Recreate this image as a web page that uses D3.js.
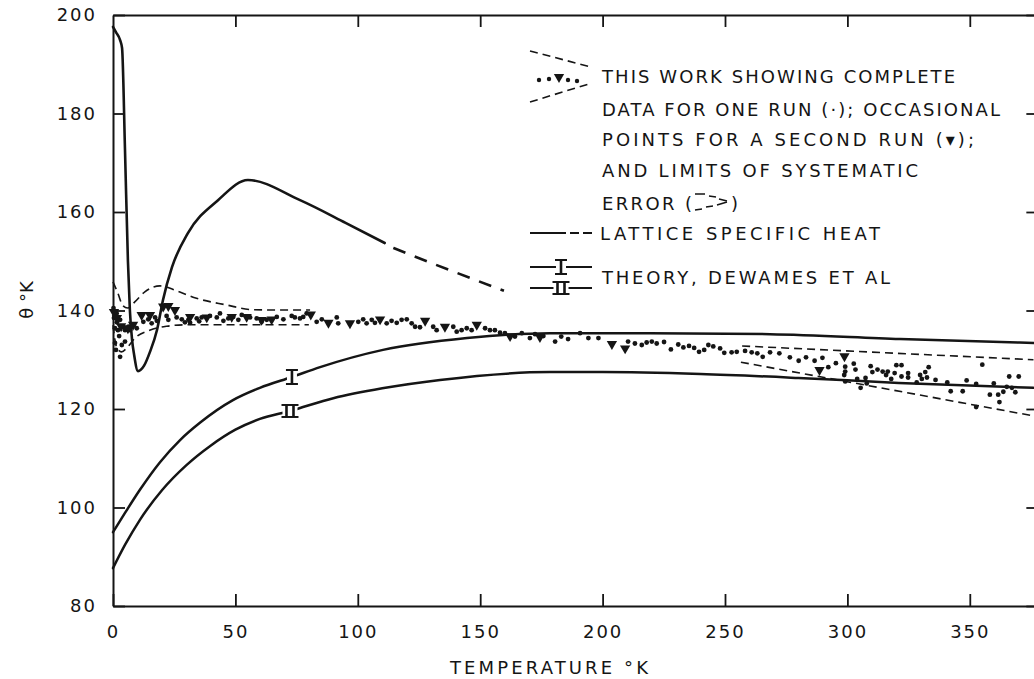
<!DOCTYPE html>
<html>
<head>
<meta charset="utf-8">
<script src="https://cdn.jsdelivr.net/npm/d3@7"></script>
<style>
  html, body { margin: 0; padding: 0; background: #fff; }
  svg { display: block; }
  text { font-family: "DejaVu Sans", sans-serif; fill: #151515; }
</style>
</head>
<body>
<div id="chart"></div>
<script>
/* -------------------------------------------------------
   DATA  (T in °K, theta in °K)
------------------------------------------------------- */

const xTicks = [0, 50, 100, 150, 200, 250, 300, 350];
const yTicks = [80, 100, 120, 140, 160, 180, 200];

// lattice specific heat, solid part then dashed continuation
const latticeSolid = [
    [0, 197.6], [1.2, 196.5], [2.9, 194.9], [3.7, 193.3], [4.9, 172.6], [6.1, 150],
    [6.9, 140], [7.8, 134], [8.6, 131.1], [10.2, 127.7], [12.7, 128.8], [15.1, 131.6],
    [18, 136.1], [20.4, 142.1], [24.1, 148.8], [30.6, 155.7], [42.9, 162.4],
    [55.1, 166.5], [76.4, 162.4], [95, 157.8], [111, 153.7]
];
const latticeDashed = [[114.5, 152.7], [137, 148.3], [159.7, 144.0]];

// theory, DeWames et al
const theoryI = [
    [0, 95], [4.9, 98.9], [11, 103.6], [19.2, 109.2], [27.4, 113.7], [35.5, 117.2],
    [49, 121.8], [60, 124.3], [73.1, 126.5], [84.6, 128.5], [110.3, 132], [144.6, 134.4],
    [178.5, 135.4], [219.4, 135.4], [268.4, 135.2], [321.5, 134.2], [376.2, 133.4]
];
const theoryII = [
    [0, 87.7], [5, 92.5], [11, 97.5], [20, 103.5], [30, 108.6], [40, 112.6], [50, 115.8],
    [60, 118], [72.3, 119.6], [90, 122.2], [110, 124.2], [133.6, 125.9], [178.5, 127.5],
    [200, 127.5], [240, 127.1], [280, 126.3], [321, 125.3], [376, 124.3]
];
const markerI = [73.1, 126.5];
const markerII = [72.3, 119.6];

// limits of systematic error
const errUpperLow = [
    [0, 145.8], [2, 143.5], [4, 141], [6, 140.5], [9, 141.8], [13, 143.8], [19.2, 145],
    [26, 144], [32.7, 142.7], [46.6, 141.1], [56, 140.2], [65, 140.1], [80.5, 140.1]
];
const errLowerLow = [
    [0, 137], [1.5, 132.5], [3.5, 131.6], [6, 132.6], [9, 134.4], [15, 136], [22, 136.8],
    [30, 137.1], [80, 137.1]
];
const errUpperHigh = [[257, 132.8], [376, 130]];
const errLowerHigh = [[256.5, 129.5], [376, 118.6]];

// run 1: complete data (dots)
const run1Dots = [
    [0.2, 140.5], [0.4, 138.5], [0.8, 136.4], [0.8, 133.4], [1.2, 132.0], [1.5, 139.4], [1.6, 137.6],
    [2.0, 136.0], [2.5, 134.8], [2.9, 138.1], [2.9, 130.6], [3.6, 133.0], [4.2, 136.7], [4.9, 136.0],
    [4.9, 133.7], [6.3, 136.7], [6.9, 136.0], [8.3, 137.1], [9.7, 136.4],
    [12.4, 137.7], [14.4, 138.2], [15.8, 137.4], [17.2, 138.6], [17.9, 137.9], [21.9, 138.9],
    [22.6, 138.1], [26.0, 138.6], [28.1, 138.2], [29.4, 137.6], [30.8, 138.1], [31.5, 137.5],
    [34.2, 138.4], [35.2, 137.8], [36.2, 138.6], [39.6, 138.9], [42.4, 138.6], [43.7, 139.4],
    [45.1, 137.9], [47.1, 138.4], [49.1, 138.7], [51.2, 138.1], [52.6, 139.1], [56.0, 138.6],
    [58.7, 138.4], [60.7, 137.7], [62.8, 138.1], [66.9, 138.7], [69.6, 138.2], [73.0, 138.9],
    [74.3, 138.6], [76.4, 138.4], [77.7, 138.7], [79.1, 139.4],
    [83.2, 137.7], [85.3, 138.2], [91.4, 138.6], [92.0, 137.4], [100.2, 137.7], [102.2, 138.2],
    [103.6, 137.4], [105.7, 138.1], [107.0, 137.5], [111.8, 137.4], [113.8, 137.9], [115.9, 137.5],
    [117.9, 138.1], [120.0, 138.2], [122.0, 137.4], [123.4, 136.7], [125.4, 136.6], [130.8, 136.7],
    [132.2, 136.0], [139.0, 136.7], [140.4, 135.7], [142.4, 136.0], [144.5, 136.4], [146.5, 136.0],
    [152.0, 136.4], [154.0, 136.0], [156.0, 136.0], [158.1, 135.5], [160.1, 135.4], [164.2, 134.7],
    [167.0, 135.4], [170.3, 134.4], [172.4, 135.2], [175.8, 134.8],
    [180.6, 133.7], [183.1, 134.7], [185.9, 134.2], [190.8, 135.4], [194.2, 134.4], [198.3, 134.4],
    [210.4, 133.7], [213.2, 133.3], [216.0, 133.0], [218.0, 133.5], [220.1, 133.7], [222.1, 133.3],
    [225.1, 133.6], [227.9, 132.1], [230.9, 133.1], [233.0, 132.5], [235.3, 132.8], [237.4, 132.4],
    [239.4, 131.6], [241.5, 132.0], [243.2, 133.0], [245.2, 132.7], [248.0, 132.3], [249.7, 131.4],
    [252.7, 131.5], [254.8, 131.6], [258.2, 131.8], [260.9, 131.5], [263.2, 131.3], [265.4, 130.6],
    [268.4, 131.5], [272.2, 131.3],
    [276.5, 130.5], [280.1, 129.8], [283.1, 130.5], [286.6, 129.8], [289.8, 130.4], [292.2, 128.5],
    [295.3, 129.3], [299.1, 128.6], [299.1, 127.6], [298.7, 126.9], [299.1, 125.6], [302.6, 129.2],
    [303.3, 128.0], [304.0, 126.1], [305.4, 124.3], [307.4, 126.3], [307.9, 125.2], [309.5, 128.7],
    [310.2, 127.5], [312.3, 128.0], [314.4, 127.6], [315.8, 126.9], [316.5, 127.6], [317.9, 126.1],
    [319.3, 127.3], [320.0, 128.9], [322.1, 128.9], [322.1, 126.6], [324.8, 127.3], [324.8, 126.4],
    [328.3, 125.4], [329.7, 126.9], [330.4, 126.1], [331.8, 127.5], [333.2, 128.5], [332.5, 126.4],
    [336.0, 125.9], [340.8, 125.4], [342.2, 123.6], [347.1, 123.6], [348.7, 125.8], [352.6, 125.1],
    [352.6, 120.4], [355.1, 129.0], [358.2, 122.9], [359.8, 125.2], [361.6, 122.9], [362.1, 121.4],
    [363.7, 123.5], [365.1, 124.5], [366.1, 126.6], [367.2, 124.3], [368.6, 123.4], [370.0, 126.6]
];

// run 2: occasional points (triangles)
const run2Tri = [
    [0.4, 139.7], [1.6, 138.5], [3.3, 136.8], [6.1, 136.4], [8.2, 137.1], [11.7, 139.1],
    [15.1, 139.1], [20.5, 140.8], [22.6, 140.9], [25.3, 140.1], [31.5, 138.7], [38.3, 138.6],
    [48.5, 138.7], [54.6, 138.7], [60.7, 138.1], [64.8, 138.2], [80.8, 139.2], [88, 137.5],
    [96.8, 137.4], [109.1, 138.2], [127.5, 137.9], [135.6, 136.7], [148.6, 137.1], [162.2, 134.8],
    [174.4, 134.6], [203.8, 133.2], [209.2, 132.3], [288.6, 127.9], [298.8, 130.7]
];

const legendLines = [
    "THIS WORK SHOWING COMPLETE",
    "DATA FOR ONE RUN (·); OCCASIONAL",
    "POINTS FOR A SECOND RUN (▾);",
    "AND LIMITS OF SYSTEMATIC"
];

/* -------------------------------------------------------
   SETUP
------------------------------------------------------- */

const width = 1034;
const height = 679;
const ink = "#151515";

const svg = d3.select("#chart")
    .append("svg")
    .attr("width", width)
    .attr("height", height)
    .style("background", "#fff");

const x = d3.scaleLinear().domain([0, 378]).range([113, 113 + 378 * 2.448]);
const y = d3.scaleLinear().domain([80, 200]).range([606, 15]);

/* -------------------------------------------------------
   AXES (ticks drawn inward, frame on four sides)
------------------------------------------------------- */

function styleAxis(g) {
    g.select(".domain").attr("stroke", ink).attr("stroke-width", 2);
    g.selectAll(".tick line").attr("stroke", ink).attr("stroke-width", 1.8);
    g.selectAll(".tick text")
        .attr("fill", ink)
        .style("font-size", "18px")
        .style("letter-spacing", "2px");
}

svg.append("g")
    .attr("transform", `translate(0,${y(80)})`)
    .call(d3.axisBottom(x).tickValues(xTicks).tickSize(-12).tickPadding(19).tickSizeOuter(0))
    .call(styleAxis);

svg.append("g")
    .attr("transform", `translate(${x(0)},0)`)
    .call(d3.axisLeft(y).tickValues(yTicks).tickSize(-12).tickPadding(18).tickSizeOuter(0))
    .call(styleAxis)
    .call(g => g.selectAll(".tick text").attr("dx", "2px"));

svg.append("g")
    .attr("transform", `translate(0,${y(200)})`)
    .call(d3.axisTop(x).tickValues(xTicks.slice(1)).tickSize(-12).tickFormat("").tickSizeOuter(0))
    .call(styleAxis);

svg.append("g")
    .attr("transform", `translate(${x(378)},0)`)
    .call(d3.axisRight(y).tickValues(yTicks).tickSize(-12).tickFormat("").tickSizeOuter(0))
    .call(styleAxis);

svg.append("text")
    .attr("x", 549)
    .attr("y", 674)
    .attr("text-anchor", "middle")
    .style("font-size", "18px")
    .attr("textLength", 198)
    .text("TEMPERATURE °K");

svg.append("text")
    .attr("transform", "translate(33,300) rotate(-90)")
    .attr("text-anchor", "middle")
    .style("font-size", "18px")
    .text("θ °K");

/* -------------------------------------------------------
   CURVES
------------------------------------------------------- */

const line = d3.line()
    .x(d => x(d[0]))
    .y(d => y(d[1]))
    .curve(d3.curveMonotoneX);

const plot = svg.append("g")
    .attr("fill", "none")
    .attr("stroke", ink)
    .attr("stroke-linecap", "round");

plot.append("path").datum(latticeSolid).attr("d", line).attr("stroke-width", 2.6);
plot.append("path").datum(latticeDashed).attr("d", line)
    .attr("stroke-width", 2.6).attr("stroke-dasharray", "13,10").attr("stroke-linecap", "butt");

plot.append("path").datum(theoryI).attr("d", line).attr("stroke-width", 2.5);
plot.append("path").datum(theoryII).attr("d", line).attr("stroke-width", 2.5);

[errUpperLow, errLowerLow, errUpperHigh, errLowerHigh].forEach(s => {
    plot.append("path").datum(s).attr("d", line)
        .attr("stroke-width", 1.6)
        .attr("stroke-dasharray", "8,5")
        .attr("stroke-linecap", "butt");
});

/* -------------------------------------------------------
   ROMAN NUMERAL MARKERS (I, II)
------------------------------------------------------- */

function drawNumeral(g, cx, cy, n) {
    const w = n === 1 ? 12 : 17;
    const h = n === 1 ? 14 : 12;
    g.append("rect")
        .attr("x", cx - w / 2 + 1).attr("y", cy - h / 2)
        .attr("width", w - 2).attr("height", h)
        .attr("fill", "#fff").attr("stroke", "none");
    const p = g.append("g").attr("stroke", ink).attr("stroke-width", 2).attr("fill", "none");
    p.append("line").attr("x1", cx - w / 2).attr("x2", cx + w / 2).attr("y1", cy - h / 2).attr("y2", cy - h / 2);
    p.append("line").attr("x1", cx - w / 2).attr("x2", cx + w / 2).attr("y1", cy + h / 2).attr("y2", cy + h / 2);
    const stems = n === 1 ? [0] : [-3.5, 3.5];
    stems.forEach(s => {
        p.append("line").attr("x1", cx + s).attr("x2", cx + s).attr("y1", cy - h / 2).attr("y2", cy + h / 2)
            .attr("stroke-width", 2.6);
    });
}

drawNumeral(svg, x(markerI[0]), y(markerI[1]), 1);
drawNumeral(svg, x(markerII[0]), y(markerII[1]), 2);

/* -------------------------------------------------------
   DATA POINTS
------------------------------------------------------- */

svg.append("g")
    .selectAll("circle")
    .data(run1Dots)
    .enter()
    .append("circle")
    .attr("cx", d => x(d[0]))
    .attr("cy", d => y(d[1]))
    .attr("r", 2.4)
    .attr("fill", ink);

const tri = d3.symbol().type(d3.symbolTriangle).size(46);

svg.append("g")
    .selectAll("path")
    .data(run2Tri)
    .enter()
    .append("path")
    .attr("d", tri)
    .attr("transform", d => `translate(${x(d[0])},${y(d[1])}) rotate(180)`)
    .attr("fill", ink);

/* -------------------------------------------------------
   LEGEND
------------------------------------------------------- */

const leg = svg.append("g");
const textX = 602;
const lineY = [76, 109, 139, 170];
const lineW = [353, 398, 372, 316];

legendLines.forEach((t, i) => {
    leg.append("text")
        .attr("x", textX)
        .attr("y", lineY[i] + 7)
        .style("font-size", "18px")
        .attr("textLength", lineW[i])
        .text(t);
});

leg.append("text").attr("x", textX).attr("y", 210)
    .style("font-size", "18px").attr("textLength", 90).text("ERROR (");
leg.append("text").attr("x", 731).attr("y", 210)
    .style("font-size", "18px").text(")");
leg.append("text").attr("x", 600).attr("y", 240)
    .style("font-size", "18px").attr("textLength", 280).text("LATTICE SPECIFIC HEAT");
leg.append("text").attr("x", textX).attr("y", 284)
    .style("font-size", "18px").attr("textLength", 288).text("THEORY, DEWAMES ET AL");

const ls = leg.append("g").attr("stroke", ink).attr("fill", "none");

// wedge of error limits with sample points
ls.append("line").attr("x1", 530).attr("y1", 51).attr("x2", 591).attr("y2", 67)
    .attr("stroke-width", 1.6).attr("stroke-dasharray", "8,5");
ls.append("line").attr("x1", 530).attr("y1", 102).attr("x2", 592).attr("y2", 83)
    .attr("stroke-width", 1.6).attr("stroke-dasharray", "8,5");
[[539, 80], [549, 79], [568, 80], [577, 81]].forEach(p => {
    leg.append("circle").attr("cx", p[0]).attr("cy", p[1]).attr("r", 2.2).attr("fill", ink);
});
leg.append("path").attr("d", tri).attr("transform", "translate(559,77) rotate(180)").attr("fill", ink);

// small dashed wedge inside "ERROR ( )"
ls.append("path").attr("d", "M695,194 L705,194 M709,196 L716,197 M719,199 L727,201")
    .attr("stroke-width", 1.5);
ls.append("path").attr("d", "M695,210 L702,209 M706,207 L713,206 M717,205 L727,202")
    .attr("stroke-width", 1.5);

// lattice symbol: solid then dashed
ls.append("line").attr("x1", 530).attr("x2", 566).attr("y1", 233).attr("y2", 233).attr("stroke-width", 2.2);
ls.append("line").attr("x1", 570).attr("x2", 594).attr("y1", 233).attr("y2", 233)
    .attr("stroke-width", 2.2).attr("stroke-dasharray", "9,4");

// theory symbols
ls.append("line").attr("x1", 530).attr("x2", 592).attr("y1", 267).attr("y2", 267).attr("stroke-width", 2.2);
ls.append("line").attr("x1", 530).attr("x2", 592).attr("y1", 288).attr("y2", 288).attr("stroke-width", 2.2);
drawNumeral(leg, 561, 267, 1);
drawNumeral(leg, 561, 288, 2);
</script>
</body>
</html>
